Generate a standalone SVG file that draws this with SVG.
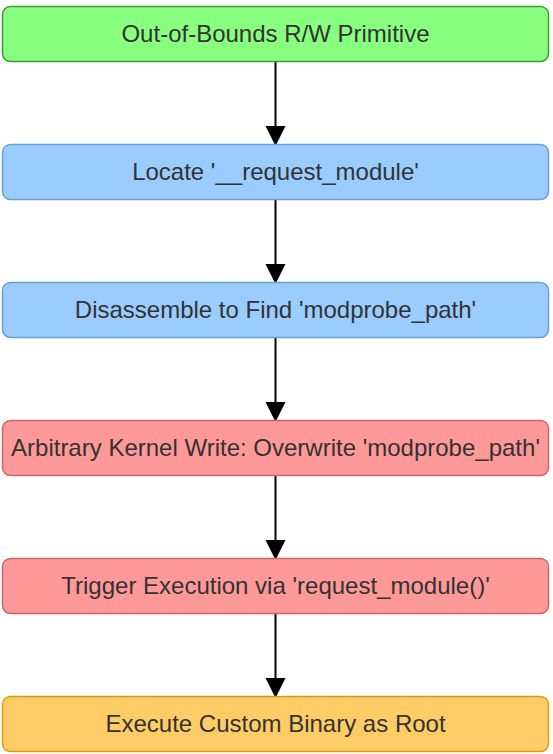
<svg xmlns="http://www.w3.org/2000/svg" width="553" height="754" viewBox="0 0 553 754">
<defs>
<style>
.n rect{stroke-width:1.5}
.n text{font-family:"Liberation Sans",Arial,sans-serif;font-size:24px;fill:#333;text-anchor:middle;dominant-baseline:central}
.g rect{fill:#88ff7f;stroke:#3c9a32}
.b rect{fill:#9accff;stroke:#6a9fcf}
.r rect{fill:#ff9999;stroke:#cc6666}
.y rect{fill:#ffcc66;stroke:#d4a010}
.c line{stroke:#000;stroke-width:2}
.c path{fill:#000}
</style>
</defs>
<g class="c">
<line x1="275.5" y1="62" x2="275.5" y2="128"/><path d="M265.5,126 L285.5,126 L275.5,146 Z"/>
<line x1="275.5" y1="200" x2="275.5" y2="266"/><path d="M265.5,264 L285.5,264 L275.5,284 Z"/>
<line x1="275.5" y1="338" x2="275.5" y2="404"/><path d="M265.5,402 L285.5,402 L275.5,422 Z"/>
<line x1="275.5" y1="476" x2="275.5" y2="542"/><path d="M265.5,540 L285.5,540 L275.5,560 Z"/>
<line x1="275.5" y1="614" x2="275.5" y2="680"/><path d="M265.5,678 L285.5,678 L275.5,698 Z"/>
</g>
<g id="n1" class="n g"><rect x="2.5" y="6.5" width="546" height="55" rx="8"/><text x="275.5" y="33">Out-of-Bounds R/W Primitive</text></g>
<g id="n2" class="n b"><rect x="2.5" y="144.5" width="546" height="55" rx="8"/><text x="275.5" y="171">Locate '__request_module'</text></g>
<g id="n3" class="n b"><rect x="2.5" y="282.5" width="546" height="55" rx="8"/><text x="275.5" y="309">Disassemble to Find 'modprobe_path'</text></g>
<g id="n4" class="n r"><rect x="2.5" y="420.5" width="546" height="55" rx="8"/><text x="275.5" y="447">Arbitrary Kernel Write: Overwrite 'modprobe_path'</text></g>
<g id="n5" class="n r"><rect x="2.5" y="558.5" width="546" height="55" rx="8"/><text x="275.5" y="585">Trigger Execution via 'request_module()'</text></g>
<g id="n6" class="n y"><rect x="2.5" y="696.5" width="546" height="55" rx="8"/><text x="275.5" y="723">Execute Custom Binary as Root</text></g>
</svg>
